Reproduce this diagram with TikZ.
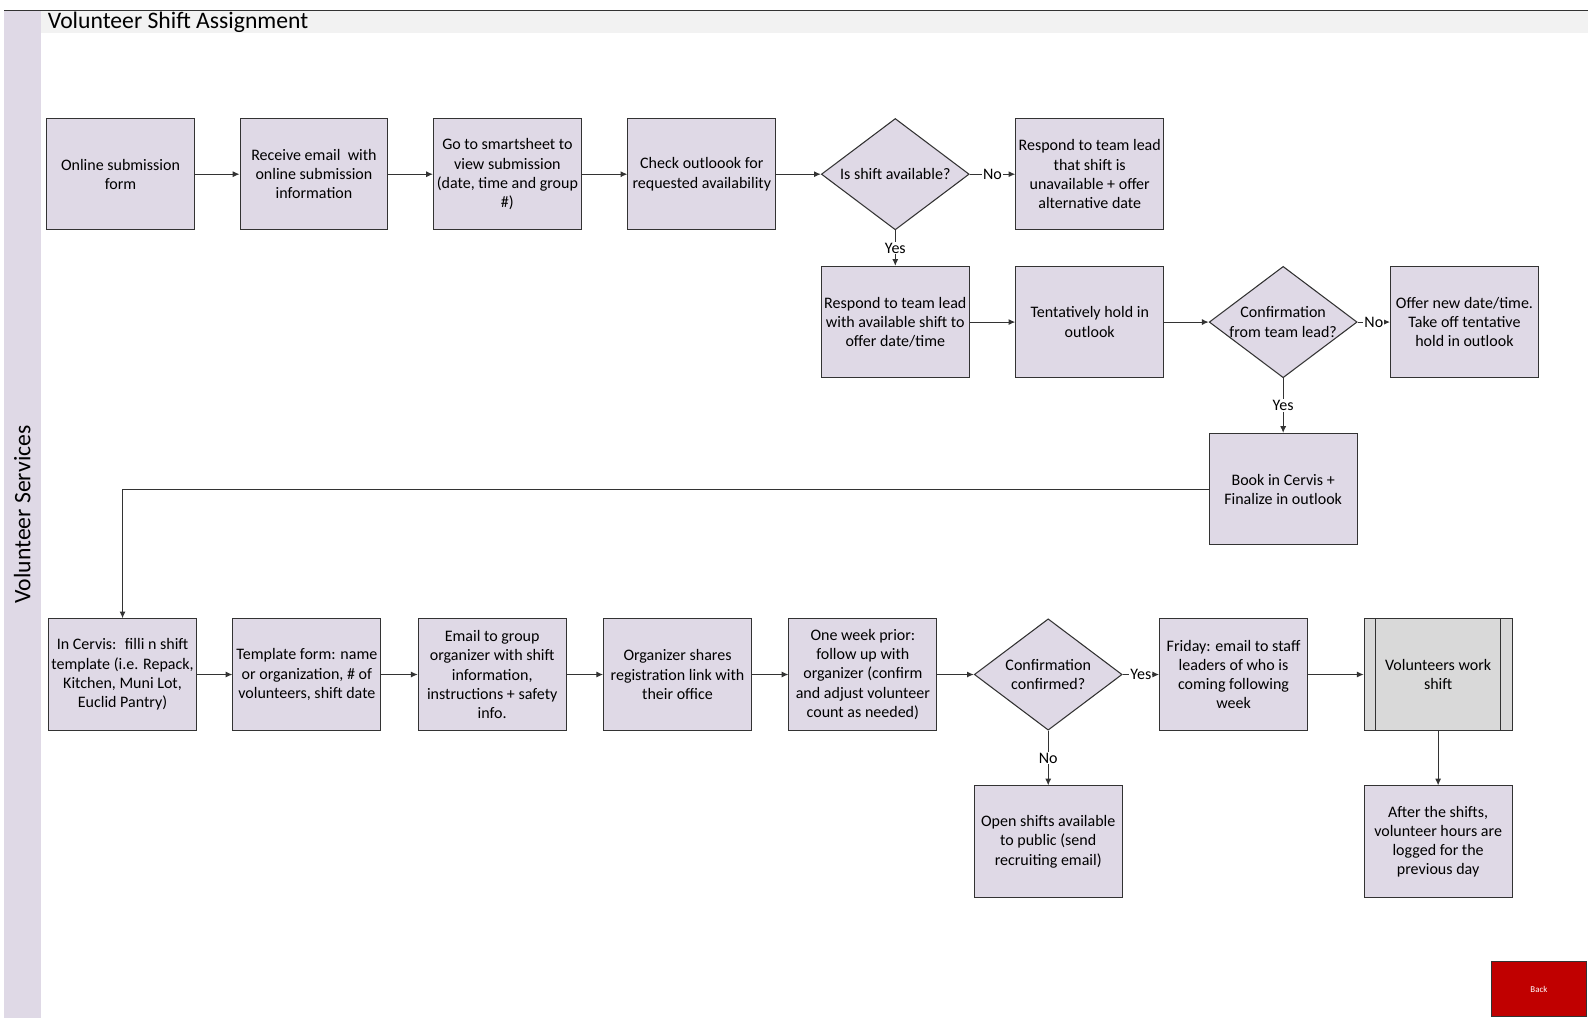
\documentclass[tikz,border=0pt]{standalone}
\usepackage{fontspec}
\setmainfont{Carlito}
\usetikzlibrary{arrows.meta, shapes.geometric}
\definecolor{lane}{HTML}{DFD9E6}
\definecolor{band}{HTML}{F2F2F2}
\definecolor{edge}{HTML}{333333}
\definecolor{subproc}{HTML}{D9D9D9}
\definecolor{backred}{HTML}{C00000}
\newcommand{\boxfont}{\fontsize{9}{10.8}\selectfont}
\tikzset{
  stepbox/.style={draw=edge, line width=0.6pt, fill=lane, minimum width=2.92cm,
    minimum height=2.2cm, inner sep=1pt, align=center, font=\boxfont},
  decision/.style={diamond, shape aspect=1.33, draw=edge, line width=0.6pt, fill=lane,
    minimum width=2.92cm, minimum height=2.2cm, inner sep=0pt, align=center, font=\boxfont},
  subprocess/.style={stepbox, fill=subproc},
  flow/.style={draw=edge, line width=0.6pt, -{Latex[length=3.8pt,width=3.4pt]}},
  branch/.style={fill=white, inner sep=0.6pt, font=\boxfont},
  lanelbl/.style={font=\fontsize{13.3}{16}\selectfont},
  backbtn/.style={draw=edge, fill=backred, text=white, minimum width=1.86cm,
    minimum height=1.1cm, font=\fontsize{5}{6}\selectfont}
}

\begin{document}
\begin{tikzpicture}[x=0.02cm, y=-0.02cm]
  \useasboundingbox (0,0) rectangle (1568,1005);

  % ---- Swimlane and title band ---------------------------------------------
  \fill[lane] (4,10) rectangle (40,1005);
  \fill[band] (40,10) rectangle (1568,33);
  \draw[edge, line width=0.6pt] (4,10) -- (1568,10);
  \node[lanelbl, rotate=90] (lanename) at (22,508) {Volunteer Services};
  \node[lanelbl, anchor=west] (title) at (41,22) {Volunteer Shift Assignment};

  % ---- Row 1: request intake ----------------------------------------------
  \node[stepbox] (form)    at (119,172) {Online submission\\form};
  \node[stepbox] (email)   at (310,172) {Receive email~ with\\online submission\\information};
  \node[stepbox] (sheet)   at (501,172) {Go to smartsheet to\\view submission\\(date, time and group\\\#)};
  \node[stepbox] (outlook) at (693,172) {Check outloook for\\requested availability};
  \node[decision] (avail)  at (884,172) {Is shift available?};
  \node[stepbox] (reject)  at (1076,172) {Respond to team lead\\that shift is\\unavailable + offer\\alternative date};

  % ---- Row 2: tentative hold ----------------------------------------------
  \node[stepbox] (offer)   at (884,318) {Respond to team lead\\with available shift to\\offer date/time};
  \node[stepbox] (hold)    at (1076,318) {Tentatively hold in\\outlook};
  \node[decision] (lead)   at (1267,318) {Confirmation\\from team lead?};
  \node[stepbox] (newdate) at (1446,318) {Offer new date/time.\\Take off tentative\\hold in outlook};

  % ---- Booking --------------------------------------------------------------
  \node[stepbox] (book)    at (1267,483) {Book in Cervis +\\Finalize in outlook};

  % ---- Row 3: shift set-up --------------------------------------------------
  \node[stepbox] (cervis)   at (121,666) {In Cervis:~ filli n shift\\template (i.e. Repack,\\Kitchen, Muni Lot,\\Euclid Pantry)};
  \node[stepbox] (template) at (303,666) {Template form: name\\or organization, \# of\\volunteers, shift date};
  \node[stepbox] (organizer) at (486,666) {Email to group\\organizer with shift\\information,\\instructions + safety\\info.};
  \node[stepbox] (register) at (669,666) {Organizer shares\\registration link with\\their office};
  \node[stepbox] (followup) at (852,666) {One week prior:\\follow up with\\organizer (confirm\\and adjust volunteer\\count as needed)};
  \node[decision] (confirmed) at (1035,666) {Confirmation\\confirmed?};
  \node[stepbox] (friday)   at (1218,666) {Friday: email to staff\\leaders of who is\\coming following\\week};
  \node[subprocess] (work)  at (1420,666) {Volunteers work\\shift};
  \draw[edge, line width=0.6pt] ([xshift=0.24cm]work.north west) -- ([xshift=0.24cm]work.south west);
  \draw[edge, line width=0.6pt] ([xshift=-0.24cm]work.north east) -- ([xshift=-0.24cm]work.south east);

  % ---- Row 4: outcomes ------------------------------------------------------
  \node[stepbox] (public)  at (1035,831) {Open shifts available\\to public (send\\recruiting email)};
  \node[stepbox] (logged)  at (1420,831) {After the shifts,\\volunteer hours are\\logged for the\\previous day};

  % ---- Connectors -----------------------------------------------------------
  \draw[flow] (form) -- (email);
  \draw[flow] (email) -- (sheet);
  \draw[flow] (sheet) -- (outlook);
  \draw[flow] (outlook) -- (avail);
  \draw[flow] (avail) -- node[branch] {No} (reject);
  \draw[flow] (avail) -- node[branch] {Yes} (offer);
  \draw[flow] (offer) -- (hold);
  \draw[flow] (hold) -- (lead);
  \draw[flow] (lead) -- node[branch] {No} (newdate);
  \draw[flow] (lead) -- node[branch] {Yes} (book);
  \draw[flow] (book.west) -| (cervis.north);
  \draw[flow] (cervis) -- (template);
  \draw[flow] (template) -- (organizer);
  \draw[flow] (organizer) -- (register);
  \draw[flow] (register) -- (followup);
  \draw[flow] (followup) -- (confirmed);
  \draw[flow] (confirmed) -- node[branch] {Yes} (friday);
  \draw[flow] (confirmed) -- node[branch] {No} (public);
  \draw[flow] (friday) -- (work);
  \draw[flow] (work) -- (logged);

  % ---- Back button ----------------------------------------------------------
  \node[backbtn] (back) at (1519.5,976.5) {Back};

\end{tikzpicture}
\end{document}
